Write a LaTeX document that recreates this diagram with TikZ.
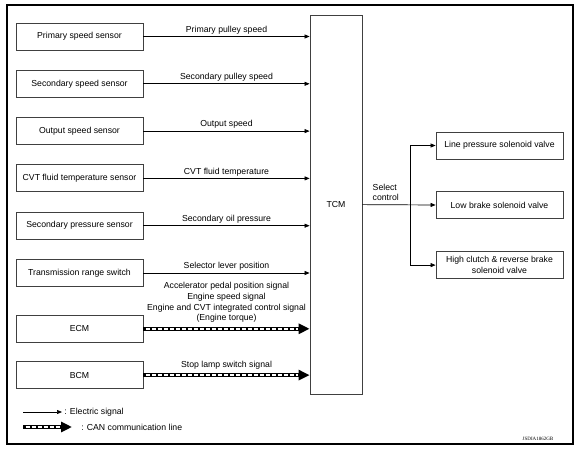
\documentclass[tikz,border=0pt]{standalone}
\usepackage{fontspec}
\setmainfont{Liberation Sans}
\newfontfamily\codefont{Liberation Serif}
\usetikzlibrary{positioning,calc,arrows.meta}

\tikzset{
  unit/.style={draw=black!75, line width=.8pt, minimum width=127pt, minimum height=27pt, align=center, inner sep=1pt},
  sig/.style={line width=.7pt, -{Triangle[length=5pt,width=4pt]}},
  can/.style={line width=4.5pt, -{Triangle[length=11pt,width=10pt]},
    postaction={draw=white, -, line width=1.8pt, dash pattern=on 4pt off 2pt, dash phase=-1.5pt, shorten >=12pt, shorten <=1pt}},
  siglabel/.style={anchor=south, inner sep=2pt},
}

\begin{document}
\begin{tikzpicture}[x=1pt, y=-1pt, font=\fontsize{8.7}{10.7}\selectfont]
\useasboundingbox (0,0) rectangle (582,449);
\draw[line width=1.2pt] (7,5) rectangle (573,444);

% control unit
\node[draw=black!75, line width=.8pt, minimum width=52pt, minimum height=379pt] (tcm) at (336,204.5) {TCM};

% inputs
\node[unit] (pss) at (79.5,36.5) {Primary speed sensor};
\node[unit, below=19.5pt of pss] (sss) {Secondary speed sensor};
\node[unit, below=19.5pt of sss] (oss) {Output speed sensor};
\node[unit, below=19.5pt of oss] (fts) {CVT fluid temperature sensor};
\node[unit, below=19.5pt of fts] (sps) {Secondary pressure sensor};
\node[unit, below=19.5pt of sps] (trs) {Transmission range switch};
\node[unit, below=28pt of trs] (ecm) {ECM};
\node[unit, below=18.5pt of ecm] (bcm) {BCM};

\draw[sig] (pss) -- (pss -| tcm.west) node[siglabel, midway] {Primary pulley speed};
\draw[sig] (sss) -- (sss -| tcm.west) node[siglabel, midway] {Secondary pulley speed};
\draw[sig] (oss) -- (oss -| tcm.west) node[siglabel, midway] {Output speed};
\draw[sig] (fts) -- (fts -| tcm.west) node[siglabel, midway] {CVT fluid temperature};
\draw[sig] (sps) -- (sps -| tcm.west) node[siglabel, midway] {Secondary oil pressure};
\draw[sig] (trs) -- (trs -| tcm.west) node[siglabel, midway] {Selector lever position};
\draw[can] (ecm) -- (ecm -| tcm.west) node[siglabel, midway, align=center, yshift=2pt] {Accelerator pedal position signal\\Engine speed signal\\Engine and CVT integrated control signal\\(Engine torque)};
\draw[can] (bcm) -- (bcm -| tcm.west) node[siglabel, midway, yshift=2pt] {Stop lamp switch signal};

% outputs
\node[unit] (lpv) at (499.5,145.5) {Line pressure solenoid valve};
\node[unit, below=32pt of lpv] (lbv) {Low brake solenoid valve};
\node[unit, below=32pt of lbv] (hcv) {High clutch \& reverse brake\\solenoid valve};

\coordinate (fork) at (410,204.5);
\draw[sig] (tcm) -- (lbv);
\draw[sig] (fork) |- (lpv);
\draw[sig] (fork) |- (hcv);
\node[anchor=south west, align=left, inner sep=0pt] (selctl) at (372.5,201) {Select\\control};

% legend
\coordinate (el1) at (23,412);
\coordinate (el2) at (62,412);
\coordinate (cl1) at (23,427);
\coordinate (cl2) at (72,427);
\draw[sig] (el1) -- (el2) node[right, inner sep=2pt] (eltxt) {: Electric signal};
\draw[can] (cl1) -- (cl2) node[right, inner sep=0pt, xshift=7pt] (cltxt) {: CAN communication line};

\node[font=\codefont\fontsize{5}{6}\selectfont, inner sep=0pt] (code) at (538,439) {JSDIA1862GB};
\end{tikzpicture}
\end{document}
